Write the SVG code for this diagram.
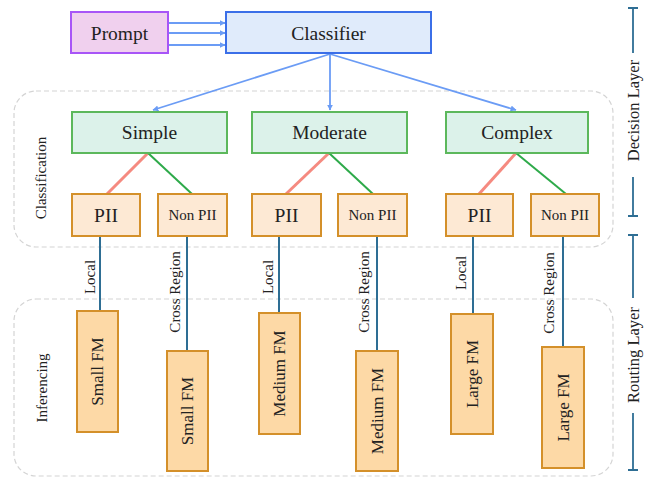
<svg xmlns="http://www.w3.org/2000/svg" width="646" height="479" viewBox="0 0 646 479" font-family="'Liberation Serif', 'DejaVu Serif', serif">
<defs>
<marker id="ah" viewBox="0 0 10 10" refX="9" refY="5" markerWidth="6" markerHeight="6" orient="auto" markerUnits="userSpaceOnUse">
<path d="M0,0 L10,5 L0,10 z" fill="#6b9cf5"/>
</marker>
<style>
text{font-family:'Liberation Serif','DejaVu Serif',serif;fill:#222;text-anchor:middle;dominant-baseline:central}
.grp{fill:none;stroke:#d4d4d4;stroke-width:1.2;stroke-dasharray:5 3}
.cat{fill:#dcf2ea;stroke:#5cb85c;stroke-width:2}
.pii{fill:#fde9d4;stroke:#d4902a;stroke-width:2}
.fm{fill:#fdd9a6;stroke:#d4902a;stroke-width:2}
.arr{stroke:#6b9cf5;stroke-width:1.8;fill:none;marker-end:url(#ah)}
.red{stroke:#f58a80;stroke-width:3}
.grn{stroke:#2eaa4a;stroke-width:2}
.rt{stroke:#2e6e94;stroke-width:2}
.ax{stroke:#2e6e94;stroke-width:1.8;fill:none}
.big{font-size:19.5px}
.sm{font-size:15px}
.np{font-size:15px}
.md{font-size:17px}
.lay{font-size:16.5px}
</style>
</defs>
<g id="groups">
<rect class="grp" x="14" y="91" width="599" height="156" rx="22"/>
<rect class="grp" x="14" y="299" width="599" height="177" rx="22"/>
<text class="sm" transform="translate(41,178) rotate(-90)">Classification</text>
<text class="sm" transform="translate(42,388) rotate(-90)">Inferencing</text>
</g>
<g id="connectors">
<line class="arr" x1="169" y1="23" x2="225" y2="23"/>
<line class="arr" x1="169" y1="33" x2="225" y2="33"/>
<line class="arr" x1="169" y1="45" x2="225" y2="45"/>
<line class="arr" x1="330" y1="54" x2="153" y2="110"/>
<line class="arr" x1="330" y1="54" x2="330" y2="110"/>
<line class="arr" x1="330" y1="54" x2="516" y2="110"/>
<line class="red" x1="148" y1="153" x2="107" y2="194"/>
<line class="grn" x1="148" y1="153" x2="192" y2="194"/>
<line class="red" x1="329" y1="153" x2="286" y2="194"/>
<line class="grn" x1="329" y1="153" x2="373" y2="194"/>
<line class="red" x1="516" y1="153" x2="479" y2="194"/>
<line class="grn" x1="516" y1="153" x2="566" y2="194"/>
<line class="rt" x1="100" y1="236" x2="100" y2="311"/>
<line class="rt" x1="187" y1="236" x2="187" y2="351"/>
<line class="rt" x1="279" y1="236" x2="279" y2="313"/>
<line class="rt" x1="377" y1="236" x2="377" y2="351"/>
<line class="rt" x1="473" y1="236" x2="473" y2="314"/>
<line class="rt" x1="563" y1="236" x2="563" y2="347"/>
<text class="sm" transform="translate(90,277) rotate(-90)">Local</text>
<text class="sm" transform="translate(175,292) rotate(-90)">Cross Region</text>
<text class="sm" transform="translate(268,277) rotate(-90)">Local</text>
<text class="sm" transform="translate(364,292) rotate(-90)">Cross Region</text>
<text class="sm" transform="translate(461,273) rotate(-90)">Local</text>
<text class="sm" transform="translate(549,293) rotate(-90)">Cross Region</text>
</g>
<g id="prompt">
<rect x="71" y="12" width="97" height="41" fill="#f0d0ee" stroke="#a855f7" stroke-width="2"/>
<text class="big" x="119.5" y="33">Prompt</text>
</g>
<g id="classifier">
<rect x="226" y="12" width="205" height="41" fill="#e0ebfb" stroke="#3b6fe8" stroke-width="2"/>
<text class="big" x="328.5" y="33">Classifier</text>
</g>
<g id="simple">
<rect class="cat" x="72" y="112" width="155" height="41"/>
<text class="big" x="149.5" y="132">Simple</text>
</g>
<g id="moderate">
<rect class="cat" x="252" y="112" width="155" height="41"/>
<text class="big" x="329.5" y="132">Moderate</text>
</g>
<g id="complex">
<rect class="cat" x="446" y="112" width="142" height="41"/>
<text class="big" x="517" y="132">Complex</text>
</g>
<g id="pii-simple">
<rect class="pii" x="72" y="194" width="68" height="42"/>
<text class="big" x="106" y="215">PII</text>
</g>
<g id="nonpii-simple">
<rect class="pii" x="158" y="194" width="69" height="42"/>
<text class="np" x="192.5" y="215">Non PII</text>
</g>
<g id="pii-moderate">
<rect class="pii" x="252" y="194" width="69" height="42"/>
<text class="big" x="286.5" y="215">PII</text>
</g>
<g id="nonpii-moderate">
<rect class="pii" x="338" y="194" width="69" height="42"/>
<text class="np" x="372.5" y="215">Non PII</text>
</g>
<g id="pii-complex">
<rect class="pii" x="446" y="194" width="67" height="42"/>
<text class="big" x="479.5" y="215">PII</text>
</g>
<g id="nonpii-complex">
<rect class="pii" x="531" y="194" width="68" height="42"/>
<text class="np" x="565" y="215">Non PII</text>
</g>
<g id="smallfm-local">
<rect class="fm" x="77" y="311" width="41" height="121"/>
<text class="md" transform="translate(97.5,371.5) rotate(-90)">Small FM</text>
</g>
<g id="smallfm-cross">
<rect class="fm" x="167" y="351" width="41" height="120"/>
<text class="md" transform="translate(187.5,411) rotate(-90)">Small FM</text>
</g>
<g id="mediumfm-local">
<rect class="fm" x="259" y="313" width="41" height="121"/>
<text class="md" transform="translate(279.5,373.5) rotate(-90)">Medium FM</text>
</g>
<g id="mediumfm-cross">
<rect class="fm" x="356" y="351" width="42" height="120"/>
<text class="md" transform="translate(377,411) rotate(-90)">Medium FM</text>
</g>
<g id="largefm-local">
<rect class="fm" x="451" y="314" width="42" height="120"/>
<text class="md" transform="translate(472,374) rotate(-90)">Large FM</text>
</g>
<g id="largefm-cross">
<rect class="fm" x="542" y="347" width="42" height="121"/>
<text class="md" transform="translate(563,407.5) rotate(-90)">Large FM</text>
</g>
<g id="axis">
<path class="ax" d="M628,8 H638 M633,8 V53 M633,177 V216 M628,216 H638"/>
<text class="lay" transform="translate(633,110.5) rotate(-90)">Decision Layer</text>
<path class="ax" d="M628,235 H638 M633,235 V298 M633,413 V470 M628,470 H638"/>
<text class="lay" transform="translate(633,355) rotate(-90)">Routing Layer</text>
</g>
</svg>
